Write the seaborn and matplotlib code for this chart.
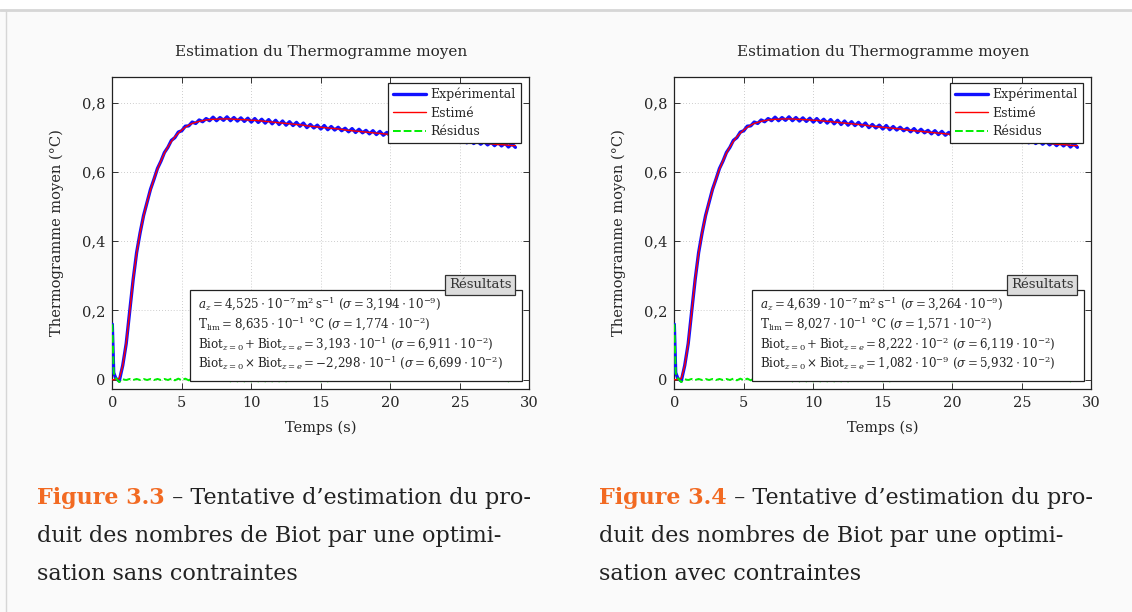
import numpy as np
import seaborn as sns
import matplotlib.pyplot as plt
from matplotlib.patches import Rectangle
from matplotlib.lines import Line2D

# time grid of the sampled thermogram (s)
temps = np.concatenate([[0.0, 0.1], np.arange(0.25, 29.01, 0.25)])

experimental = [
    0.160, 0.020, 0.004, -0.004, 0.041, 0.104, 0.197, 0.289, 0.367, 0.424,
    0.474, 0.512, 0.550, 0.579, 0.610, 0.631, 0.656, 0.671, 0.691, 0.699,
    0.715, 0.719, 0.732, 0.733, 0.744, 0.740, 0.750, 0.745, 0.754, 0.748,
    0.758, 0.748, 0.757, 0.749, 0.759, 0.748, 0.757, 0.747, 0.756, 0.746,
    0.755, 0.744, 0.754, 0.743, 0.752, 0.741, 0.751, 0.739, 0.749, 0.737,
    0.747, 0.735, 0.745, 0.734, 0.743, 0.732, 0.741, 0.728, 0.737, 0.727,
    0.735, 0.724, 0.734, 0.722, 0.731, 0.721, 0.729, 0.719, 0.726, 0.716,
    0.725, 0.714, 0.723, 0.713, 0.720, 0.710, 0.719, 0.708, 0.717, 0.706,
    0.714, 0.703, 0.712, 0.702, 0.710, 0.700, 0.708, 0.698, 0.706, 0.696,
    0.704, 0.694, 0.703, 0.693, 0.702, 0.691, 0.699, 0.689, 0.697, 0.687,
    0.695, 0.685, 0.693, 0.684, 0.691, 0.682, 0.690, 0.680, 0.688, 0.678,
    0.686, 0.676, 0.685, 0.675, 0.683, 0.672, 0.681, 0.671,
]

# estimated thermogram (both fits look the same at this scale)
estime = [
    0.000, 0.000, 0.000, 0.003, 0.040, 0.105, 0.195, 0.290, 0.365, 0.425,
    0.472, 0.513, 0.548, 0.580, 0.608, 0.632, 0.654, 0.672, 0.688, 0.701,
    0.712, 0.721, 0.729, 0.735, 0.740, 0.743, 0.746, 0.748, 0.750, 0.751,
    0.752, 0.752, 0.753, 0.753, 0.753, 0.753, 0.752, 0.752, 0.751, 0.751,
    0.750, 0.749, 0.749, 0.748, 0.747, 0.746, 0.745, 0.744, 0.743, 0.742,
    0.741, 0.740, 0.739, 0.738, 0.737, 0.736, 0.735, 0.733, 0.732, 0.731,
    0.730, 0.729, 0.728, 0.727, 0.726, 0.725, 0.724, 0.723, 0.721, 0.720,
    0.719, 0.718, 0.717, 0.716, 0.715, 0.714, 0.713, 0.712, 0.711, 0.710,
    0.709, 0.708, 0.707, 0.706, 0.705, 0.704, 0.703, 0.702, 0.701, 0.700,
    0.699, 0.698, 0.698, 0.697, 0.696, 0.695, 0.694, 0.693, 0.692, 0.691,
    0.690, 0.689, 0.688, 0.688, 0.687, 0.686, 0.685, 0.684, 0.683, 0.682,
    0.681, 0.680, 0.679, 0.679, 0.678, 0.677, 0.676, 0.676,
]

# fitted parameters, one entry per panel (sans / avec contraintes)
az_val = ["4{,}525", "4{,}639"]
az_sig = ["3{,}194", "3{,}264"]
tlim_val = ["8{,}635", "8{,}027"]
tlim_sig = ["1{,}774", "1{,}571"]
bsum_val = ["3{,}193", "8{,}222"]
bsum_exp = ["-1", "-2"]
bsum_sig = ["6{,}911", "6{,}119"]
bprod_val = ["-2{,}298", "1{,}082"]
bprod_exp = ["-1", "-9"]
bprod_sig = ["6{,}699", "5{,}932"]

fig_nums = ["Figure 3.3", "Figure 3.4"]
captions = [
    [" \u2013 Tentative d\u2019estimation du pro-",
     "duit des nombres de Biot par une optimi-",
     "sation sans contraintes"],
    [" \u2013 Tentative d\u2019estimation du pro-",
     "duit des nombres de Biot par une optimi-",
     "sation avec contraintes"],
]

exp_arr = np.array(experimental)
est_arr = np.array(estime)
residus = exp_arr - est_arr

sns.set_theme(style="ticks")
plt.rcParams["font.family"] = ["DejaVu Serif"]
plt.rcParams["mathtext.fontset"] = "dejavuserif"

W, H = 1132, 612
fig = plt.figure(figsize=(W / 100, H / 100), dpi=100)
fig.patch.set_facecolor("#fafafa")

# page decoration: white strip on top, grey frame lines
fig.add_artist(Rectangle((0, 1 - 10 / H), 1, 10 / H, transform=fig.transFigure,
                         facecolor="white", edgecolor="none"))
fig.add_artist(Line2D([0, 1], [1 - 10 / H] * 2, transform=fig.transFigure,
                      color="#d6d6d6", lw=2))
fig.add_artist(Line2D([6 / W] * 2, [0, 1 - 10 / H], transform=fig.transFigure,
                      color="#d6d6d6", lw=1))

lefts = [112.3, 674.3]
ax_w, ax_top, ax_bot = 417.0, 76.7, 389.0

for k in range(2):
    ax = fig.add_axes([lefts[k] / W, 1 - ax_bot / H, ax_w / W, (ax_bot - ax_top) / H])
    ax.set_facecolor("white")

    sns.lineplot(x=temps, y=exp_arr, ax=ax, color="#1010ff", lw=2.4,
                 label="Exp\u00e9rimental", zorder=3)
    sns.lineplot(x=temps, y=est_arr, ax=ax, color="#ff0000", lw=1.0,
                 label="Estim\u00e9", zorder=4)
    sns.lineplot(x=temps, y=residus, ax=ax, color="#00ee00", lw=1.4,
                 linestyle=(0, (4, 1.5)), label="R\u00e9sidus", zorder=5)

    ax.set_xlim(0, 30)
    ax.set_ylim(-0.027, 0.875)
    ax.set_xticks([0, 5, 10, 15, 20, 25, 30])
    ax.set_yticks([0, 0.2, 0.4, 0.6, 0.8])
    ax.set_yticklabels(["0", "0,2", "0,4", "0,6", "0,8"])
    ax.tick_params(direction="in", top=True, right=True, length=4, width=0.7,
                   labelsize=10.5, pad=5, color="#333333")
    ax.grid(True, linestyle=(0, (1, 2.5)), color="#bdbdbd", lw=0.6)
    for s in ax.spines.values():
        s.set_color("#222222")
        s.set_linewidth(0.9)

    ax.set_title("Estimation du Thermogramme moyen", fontsize=11, pad=15)
    ax.set_xlabel("Temps (s)", fontsize=10.5, labelpad=8)
    ax.set_ylabel("Thermogramme moyen (\u00b0C)", fontsize=10.5, labelpad=13)

    leg = ax.legend(loc="upper right", bbox_to_anchor=(0.980, 0.981), fontsize=9,
                    frameon=True, fancybox=False, edgecolor="#222222",
                    framealpha=1, borderaxespad=0, handlelength=2.6,
                    labelspacing=0.45, borderpad=0.4, handletextpad=0.4)
    leg.get_frame().set_linewidth(0.9)
    leg.set_zorder(10)

    # results box
    bx0 = (190 - 112.3) / ax_w
    bx1 = (521.7 - 112.3) / ax_w
    by0 = (ax_bot - 381) / (ax_bot - ax_top)
    by1 = (ax_bot - 290) / (ax_bot - ax_top)
    ax.add_patch(Rectangle((bx0, by0), bx1 - bx0, by1 - by0, transform=ax.transAxes,
                           facecolor="white", edgecolor="#222222", lw=0.9, zorder=8))
    res = "\n".join([
        rf"$a_z = {az_val[k]}\cdot10^{{-7}}\,\mathrm{{m^2\,s^{{-1}}}}$ ($\sigma = {az_sig[k]}\cdot10^{{-9}}$)",
        rf"$\mathrm{{T_{{lim}}}} = {tlim_val[k]}\cdot10^{{-1}}$" + " \u00b0C " + rf"($\sigma = {tlim_sig[k]}\cdot10^{{-2}}$)",
        rf"$\mathrm{{Biot}}_{{z=0}} + \mathrm{{Biot}}_{{z=e}} = {bsum_val[k]}\cdot10^{{{bsum_exp[k]}}}$ ($\sigma = {bsum_sig[k]}\cdot10^{{-2}}$)",
        rf"$\mathrm{{Biot}}_{{z=0}} \times \mathrm{{Biot}}_{{z=e}} = {bprod_val[k]}\cdot10^{{{bprod_exp[k]}}}$ ($\sigma = {bprod_sig[k]}\cdot10^{{-2}}$)",
    ])
    ax.text((198 - 112.3) / ax_w, (ax_bot - 296) / (ax_bot - ax_top), res,
            transform=ax.transAxes, ha="left", va="top", fontsize=8.6,
            linespacing=1.17, zorder=9)
    ax.text((480 - 112.3) / ax_w, (ax_bot - 285) / (ax_bot - ax_top), "R\u00e9sultats",
            transform=ax.transAxes, ha="center", va="center", fontsize=9.5,
            color="#333333", zorder=11,
            bbox=dict(boxstyle="square,pad=0.25", facecolor="#dcdcdc",
                      edgecolor="#333333", lw=0.9))

    # caption below the figure
    cx = [37, 599][k]
    t0 = fig.text(cx / W, 1 - 509 / H, fig_nums[k], fontsize=16, color="#f26a22",
                  fontweight="bold", ha="left", va="bottom")
    ax.annotate(captions[k][0], xy=(1, 0), xycoords=t0, ha="left", va="bottom",
                fontsize=16, color="#222222", annotation_clip=False)
    for j, line in enumerate(captions[k][1:]):
        fig.text(cx / W, 1 - (509 + 38 * (j + 1)) / H, line, fontsize=16,
                 color="#222222", ha="left", va="bottom")

fig.savefig("out.png", dpi=100, facecolor=fig.get_facecolor())
